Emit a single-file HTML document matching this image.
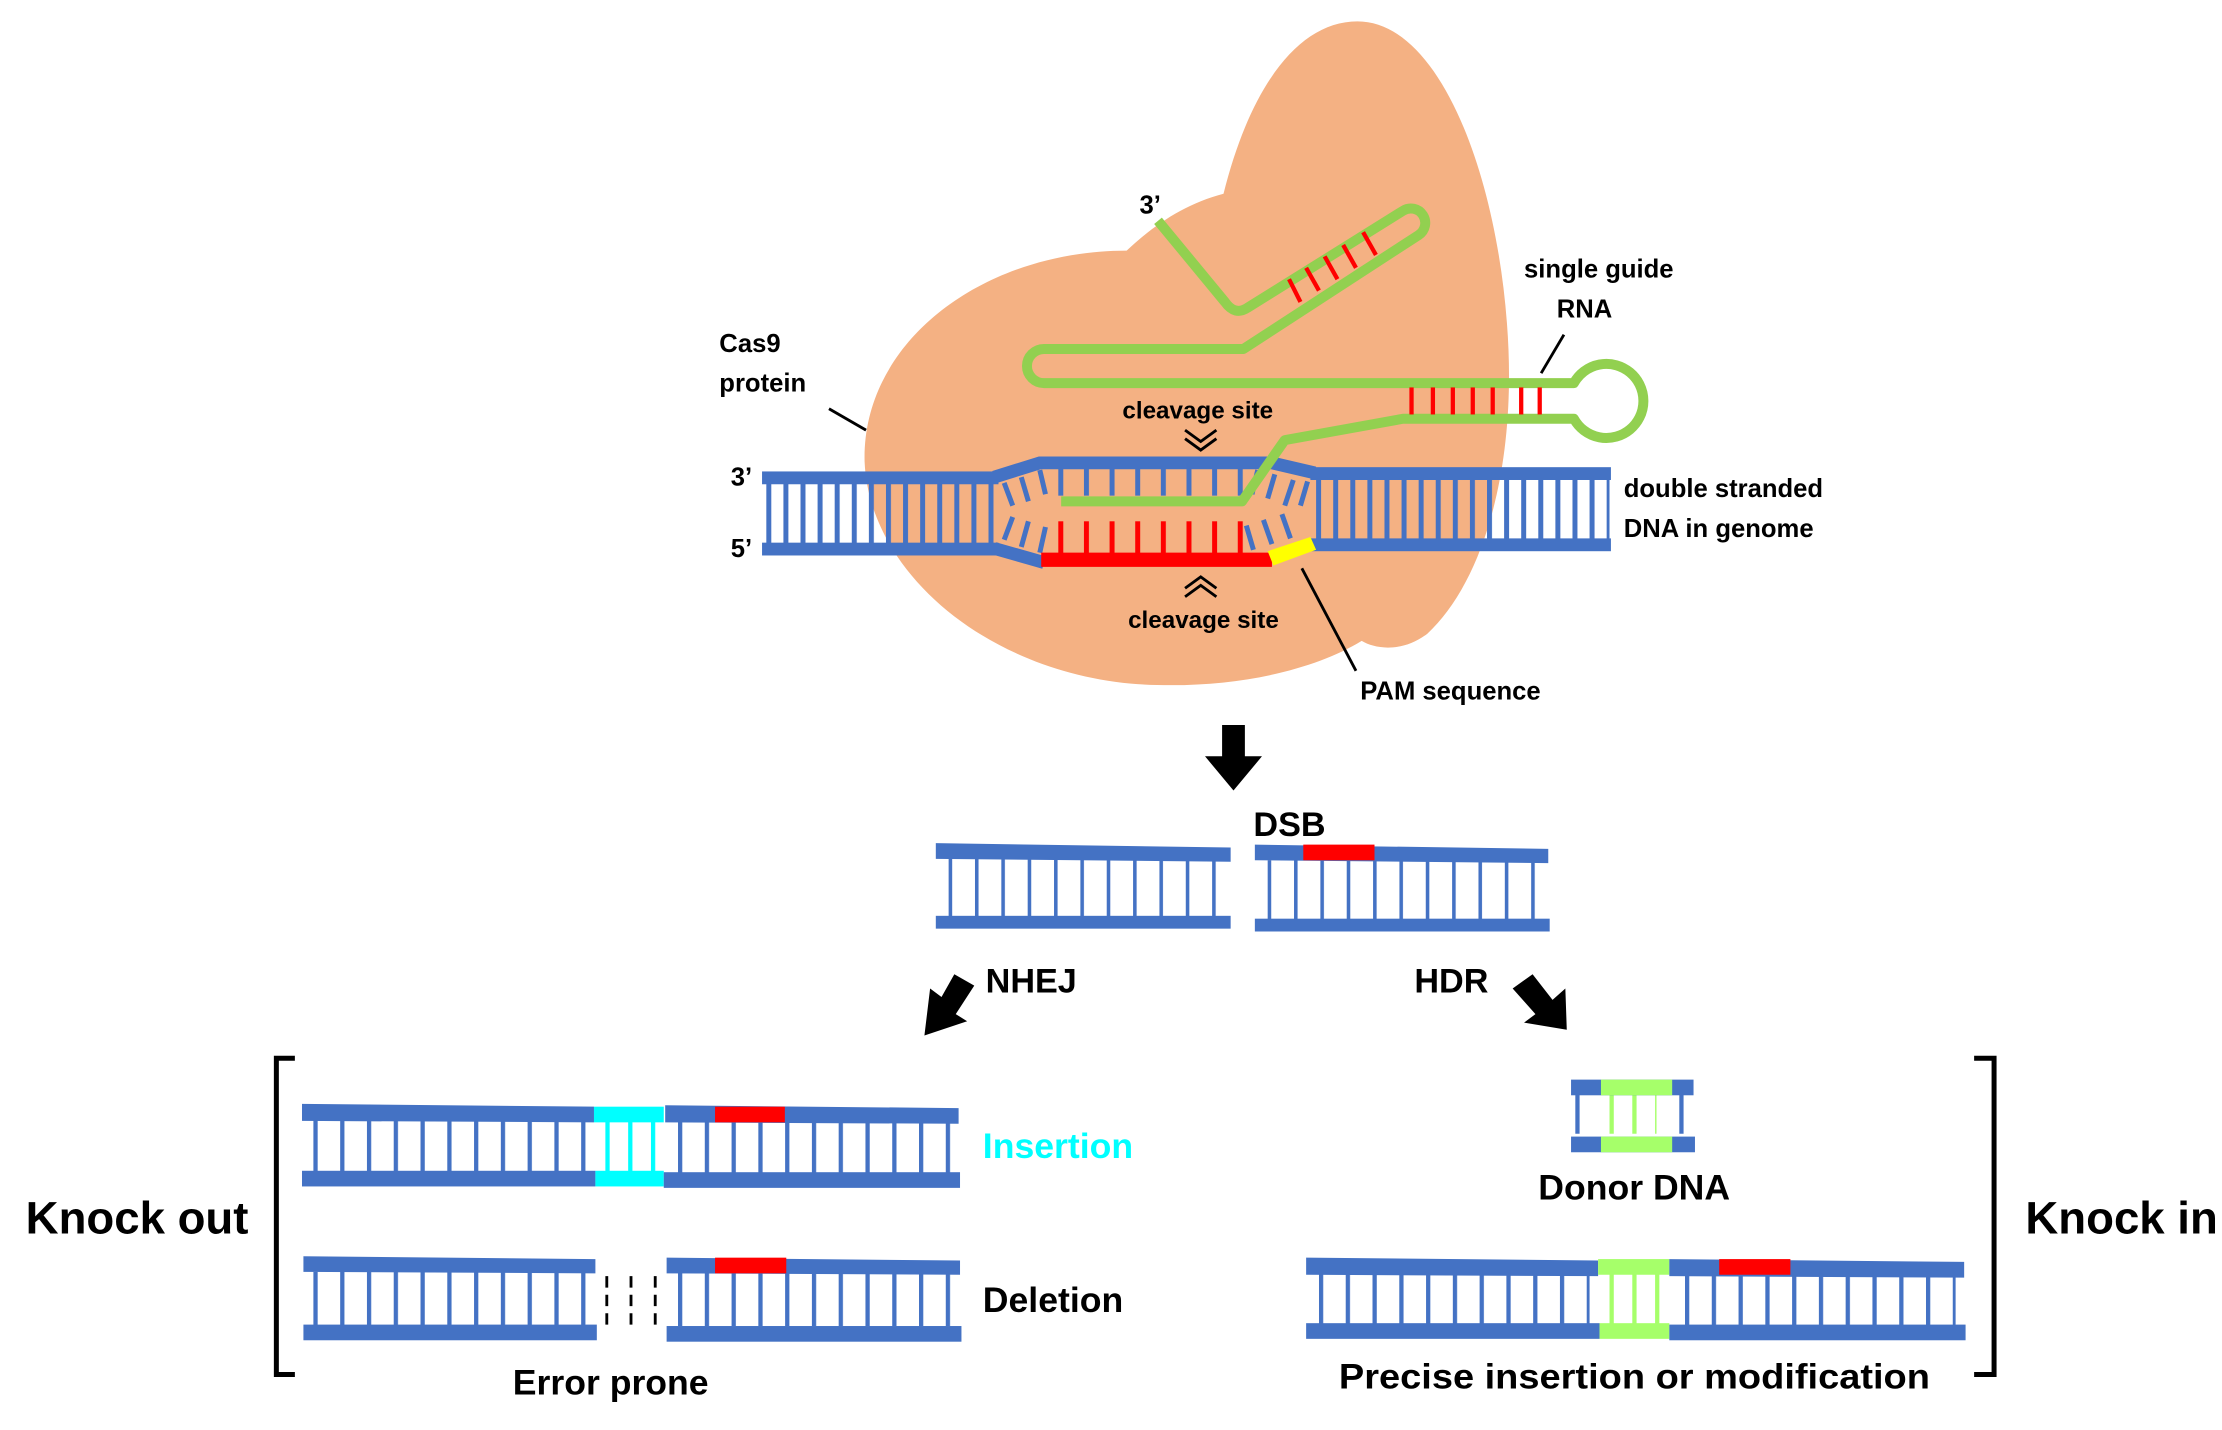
<!DOCTYPE html>
<html><head><meta charset="utf-8"><style>
html,body{margin:0;padding:0;background:#fff;}
svg{display:block;}
text{font-family:"Liberation Sans",sans-serif;font-weight:bold;fill:#000;}
</style></head><body>
<svg width="2222" height="1430" viewBox="0 0 1560 1004" xmlns="http://www.w3.org/2000/svg">
<defs>
<pattern id="r12" patternUnits="userSpaceOnUse" width="12" height="100" x="538"><rect x="0" y="0" width="3.5" height="100" fill="#4472C4"/></pattern>
<pattern id="r12b" patternUnits="userSpaceOnUse" width="12" height="100" x="924"><rect x="0" y="0" width="3.5" height="100" fill="#4472C4"/></pattern>
<pattern id="rb18" patternUnits="userSpaceOnUse" width="18" height="100" x="743"><rect x="0" y="0" width="3.5" height="100" fill="#4472C4"/></pattern>
<pattern id="rr18" patternUnits="userSpaceOnUse" width="18" height="100" x="743"><rect x="0" y="0" width="3.5" height="100" fill="#FF0000"/></pattern>
<pattern id="d18" patternUnits="userSpaceOnUse" width="18.5" height="100" x="666"><rect x="0" y="0" width="2.5" height="100" fill="#4472C4"/></pattern>
<pattern id="d18b" patternUnits="userSpaceOnUse" width="18.5" height="100" x="890"><rect x="0" y="0" width="2.5" height="100" fill="#4472C4"/></pattern>
<pattern id="k1" patternUnits="userSpaceOnUse" width="18.8" height="100" x="220"><rect x="0" y="0" width="3" height="100" fill="#4472C4"/></pattern>
<pattern id="k2" patternUnits="userSpaceOnUse" width="18.8" height="100" x="476"><rect x="0" y="0" width="3" height="100" fill="#4472C4"/></pattern>
<pattern id="k3" patternUnits="userSpaceOnUse" width="18.8" height="100" x="926"><rect x="0" y="0" width="3" height="100" fill="#4472C4"/></pattern>
<pattern id="k4" patternUnits="userSpaceOnUse" width="18.8" height="100" x="1183"><rect x="0" y="0" width="3" height="100" fill="#4472C4"/></pattern>
<pattern id="kc" patternUnits="userSpaceOnUse" width="16" height="100" x="425"><rect x="0" y="0" width="3" height="100" fill="#00FFFF"/></pattern>
<pattern id="kg" patternUnits="userSpaceOnUse" width="16" height="100" x="1130"><rect x="0" y="0" width="3" height="100" fill="#A6FF6A"/></pattern>
</defs>

<!-- Cas9 blob -->
<path d="M859,136 C878,60 912,15 953,15 C1010,15 1050,120 1058,227 C1066,330 1040,410 1002,445 C985,458 966,456 956,450 C920,472 860,485 794,480 C690,470 610,400 607,324 C605,240 690,176 791,176 C810,158 832,143 859,136 Z" fill="#F4B183"/>

<!-- left DNA segment -->
<rect x="536" y="339" width="164" height="43" fill="url(#r12)"/>
<rect x="535" y="331" width="166" height="9" fill="#4472C4"/>
<rect x="535" y="381" width="166" height="9" fill="#4472C4"/>
<!-- right DNA segment -->
<rect x="922" y="336" width="208" height="44" fill="url(#r12b)"/>
<rect x="920" y="328" width="211" height="9" fill="#4472C4"/>
<rect x="920" y="378" width="211" height="9" fill="#4472C4"/>
<!-- bubble top strand -->
<path d="M698,335 L730,325 L893,325 L923,332" stroke="#4472C4" stroke-width="9" fill="none"/>
<rect x="741" y="328" width="140" height="20" fill="url(#rb18)"/>
<!-- angled rungs -->
<g stroke="#4472C4" stroke-width="3.5">
<line x1="705" y1="339" x2="711" y2="355"/><line x1="717" y1="335" x2="722" y2="352"/><line x1="730" y1="330" x2="734" y2="347"/>
<line x1="705" y1="379" x2="711" y2="363"/><line x1="717" y1="384" x2="722" y2="366"/><line x1="730" y1="388" x2="734" y2="370"/>
<line x1="883" y1="330" x2="879" y2="347"/><line x1="895" y1="333" x2="890" y2="350"/><line x1="908" y1="337" x2="902" y2="355"/><line x1="918" y1="338" x2="913" y2="355"/>
<line x1="880" y1="386" x2="875" y2="369"/><line x1="893" y1="382" x2="887" y2="365"/><line x1="906" y1="378" x2="900" y2="361"/>
</g>
<!-- bottom strand bubble -->
<path d="M698,385 L733,395" stroke="#4472C4" stroke-width="9" fill="none"/>
<rect x="741" y="366" width="140" height="24" fill="url(#rr18)"/>
<rect x="731" y="388" width="162" height="10" fill="#FF0000"/>
<polygon points="890,387 920,377 924,386 894,397" fill="#FFFF00"/>

<!-- guide RNA -->
<g stroke="#92D050" stroke-width="7" fill="none" stroke-linejoin="round">
<path d="M813,155 L860,212 Q867,222 876,216 L985,148 A10,10 0 0 1 996,165 L873,245 L733,245 A12,12 0 0 0 733,269 L1105,269 A26,26 0 1 1 1105,294 L985,294 L902,309 L872,352 L745,352"/>
</g>
<g stroke="#FF0000" stroke-width="3">
<line x1="905" y1="196" x2="913" y2="212"/><line x1="917" y1="188" x2="926" y2="204"/><line x1="930" y1="180" x2="939" y2="196"/><line x1="943" y1="172" x2="952" y2="188"/><line x1="957" y1="163" x2="966" y2="179"/>
<line x1="991" y1="272" x2="991" y2="291"/><line x1="1006" y1="272" x2="1006" y2="291"/><line x1="1020" y1="272" x2="1020" y2="291"/><line x1="1034" y1="272" x2="1034" y2="291"/><line x1="1048" y1="272" x2="1048" y2="291"/><line x1="1068" y1="272" x2="1068" y2="291"/><line x1="1081" y1="272" x2="1081" y2="291"/>
</g>

<!-- top labels -->
<g font-size="18">
<text x="800" y="150">3’</text>
<text x="505" y="247">Cas9</text>
<text x="505" y="275">protein</text>
<text x="1070" y="195">single guide</text>
<text x="1093" y="223">RNA</text>
<text x="513" y="341">3’</text>
<text x="513" y="391">5’</text>
<text x="1140" y="349">double stranded</text>
<text x="1140" y="377">DNA in genome</text>
<text x="955" y="491">PAM sequence</text>
<text x="788" y="294" font-size="17">cleavage site</text>
<text x="792" y="441" font-size="17">cleavage site</text>
</g>
<g stroke="#000" stroke-width="2" fill="none">
<line x1="582" y1="287" x2="608" y2="302"/>
<line x1="1098" y1="235" x2="1082" y2="262"/>
<line x1="914" y1="399" x2="952" y2="471"/>
<path d="M832,302 L843,310 L854,302 M832,308 L843,316 L854,308"/>
<path d="M832,413 L843,405 L854,413 M832,419 L843,411 L854,419"/>
</g>

<!-- main arrow -->
<polygon points="858,509 874,509 874,531 886,531 866,555 846,531 858,531" fill="#000"/>
<text x="880" y="587" font-size="24">DSB</text>

<!-- DSB segments -->
<rect x="660" y="603" width="200" height="42" fill="url(#d18)"/>
<polygon points="657,592 864,595 864,605 657,603" fill="#4472C4"/>
<rect x="657" y="643" width="207" height="9" fill="#4472C4"/>
<rect x="884" y="604" width="200" height="43" fill="url(#d18b)"/>
<polygon points="881,593 1087,596 1087,606 881,604" fill="#4472C4"/>
<rect x="915" y="593" width="50" height="11" fill="#FF0000"/>
<rect x="881" y="645" width="207" height="9" fill="#4472C4"/>

<!-- NHEJ / HDR arrows -->
<polygon points="670,684 684,692 671,712 679,717 649,727 653,694 661,700" fill="#000"/>
<text x="692" y="697" font-size="24">NHEJ</text>
<polygon points="1076,684 1062,694 1078,712 1070,718 1100,723 1099,694 1090,702" fill="#000"/>
<text x="993" y="697" font-size="24">HDR</text>

<!-- brackets -->
<path d="M207,743 L194,743 L194,965 L207,965" stroke="#000" stroke-width="3.5" fill="none"/>
<path d="M1386,743 L1400,743 L1400,965 L1386,965" stroke="#000" stroke-width="3.5" fill="none"/>
<text x="18" y="866" font-size="32">Knock out</text>
<text x="1422" y="866" font-size="32">Knock in</text>

<!-- insertion row -->
<rect x="215" y="786" width="200" height="38" fill="url(#k1)"/>
<rect x="470" y="786" width="200" height="38" fill="url(#k2)"/>
<rect x="420" y="786" width="44" height="38" fill="url(#kc)"/>
<polygon points="212,775 417,777 417,788 212,787" fill="#4472C4"/>
<rect x="417" y="777" width="49" height="11" fill="#00FFFF"/>
<polygon points="467,776 673,778 673,789 467,788" fill="#4472C4"/>
<rect x="502" y="777" width="49" height="11" fill="#FF0000"/>
<rect x="212" y="822" width="206" height="11" fill="#4472C4"/>
<rect x="418" y="822" width="48" height="11" fill="#00FFFF"/>
<rect x="466" y="823" width="208" height="11" fill="#4472C4"/>
<text x="690" y="813" font-size="25" fill="#00FFFF" style="fill:#00FFFF">Insertion</text>

<!-- deletion row -->
<rect x="215" y="893" width="200" height="38" fill="url(#k1)"/>
<rect x="470" y="893" width="200" height="38" fill="url(#k2)"/>
<polygon points="213,882 418,884 418,894 213,893" fill="#4472C4"/>
<polygon points="468,883 674,885 674,895 468,894" fill="#4472C4"/>
<rect x="502" y="883" width="50" height="11" fill="#FF0000"/>
<rect x="213" y="930" width="206" height="11" fill="#4472C4"/>
<rect x="468" y="931" width="207" height="11" fill="#4472C4"/>
<g stroke="#000" stroke-width="2" stroke-dasharray="8,5"><line x1="426" y1="896" x2="426" y2="930"/><line x1="443" y1="896" x2="443" y2="930"/><line x1="460" y1="896" x2="460" y2="930"/></g>
<text x="690" y="921" font-size="25">Deletion</text>
<text x="360" y="979" font-size="25">Error prone</text>

<!-- donor DNA -->
<rect x="1104" y="764" width="80" height="32" fill="#fff"/>
<rect x="1106" y="764" width="3" height="32" fill="#4472C4"/>
<rect x="1179" y="764" width="3" height="32" fill="#4472C4"/>
<rect x="1123" y="764" width="40" height="32" fill="url(#kg)"/>
<rect x="1103" y="758" width="86" height="11" fill="#4472C4"/>
<rect x="1124" y="758" width="50" height="11" fill="#A6FF6A"/>
<rect x="1103" y="798" width="87" height="11" fill="#4472C4"/>
<rect x="1124" y="798" width="50" height="11" fill="#A6FF6A"/>
<text x="1080" y="842" font-size="25">Donor DNA</text>

<!-- knock-in row -->
<rect x="926" y="893" width="190" height="38" fill="url(#k3)"/>
<rect x="1183" y="893" width="190" height="38" fill="url(#k4)"/>
<rect x="1128" y="893" width="40" height="38" fill="url(#kg)"/>
<polygon points="917,883 1122,885 1122,896 917,895" fill="#4472C4"/>
<rect x="1122" y="884" width="50" height="11" fill="#A6FF6A"/>
<polygon points="1172,884 1379,886 1379,897 1172,896" fill="#4472C4"/>
<rect x="1207" y="884" width="50" height="11" fill="#FF0000"/>
<rect x="917" y="929" width="206" height="11" fill="#4472C4"/>
<rect x="1123" y="929" width="49" height="11" fill="#A6FF6A"/>
<rect x="1172" y="930" width="208" height="11" fill="#4472C4"/>
<text x="940" y="975" font-size="25" textLength="415" lengthAdjust="spacingAndGlyphs">Precise insertion or modification</text>
</svg>
</body></html>
